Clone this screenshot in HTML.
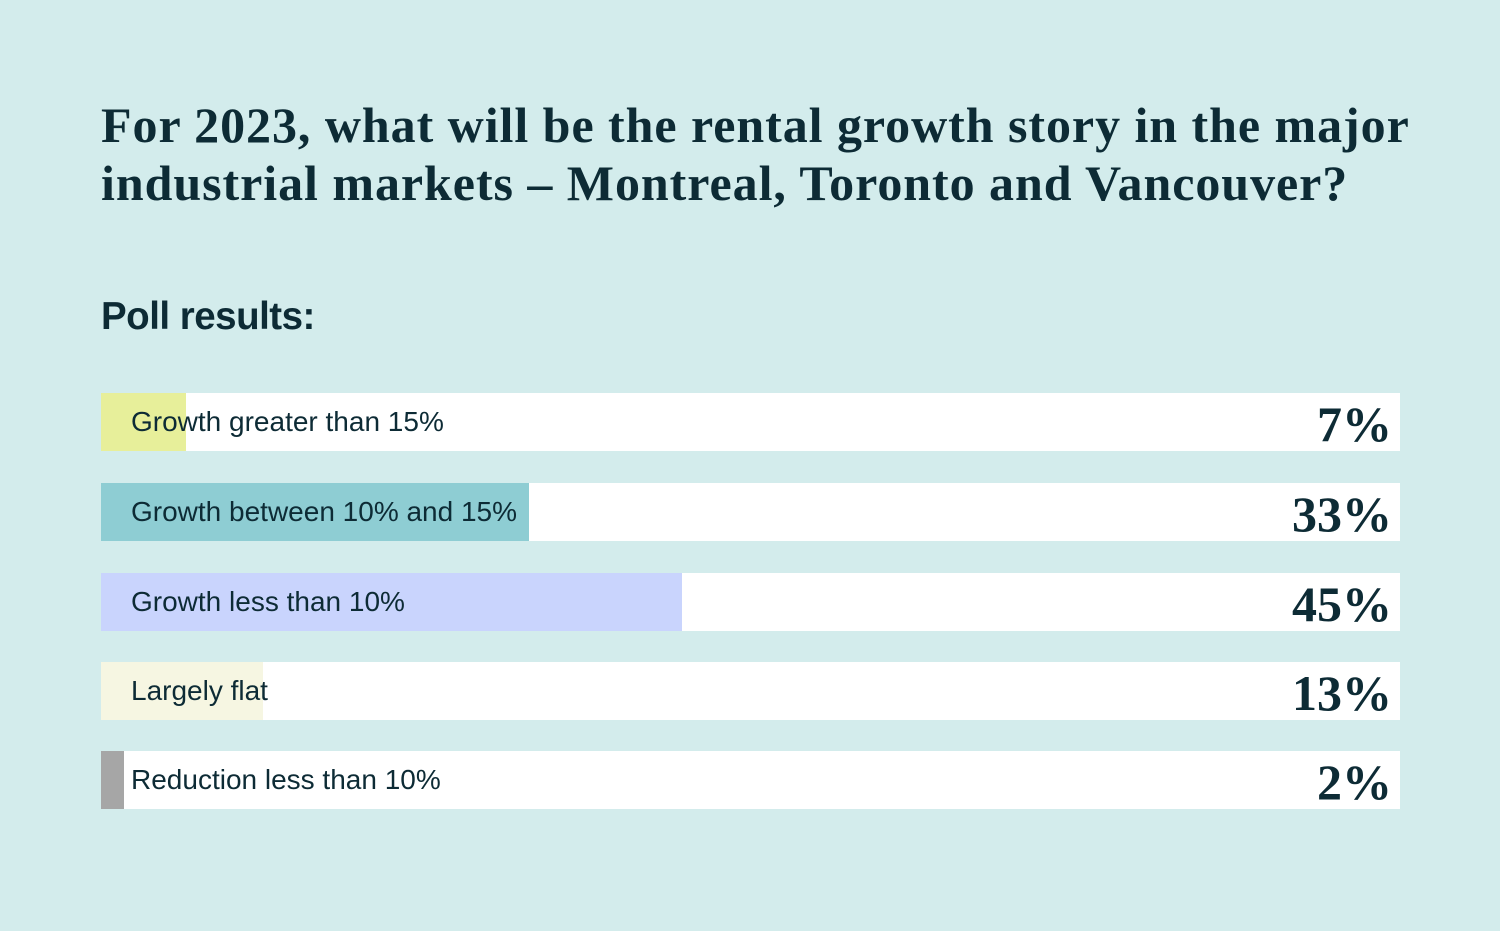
<!DOCTYPE html>
<html><head><style>
body{margin:0;width:1500px;height:931px;background:#d3ecec;position:relative;overflow:hidden;font-family:"Liberation Sans",sans-serif;color:#0d2b35}
h1{position:absolute;left:101px;top:96px;margin:0;font-family:"Liberation Serif",serif;font-weight:bold;font-size:50px;line-height:58px;letter-spacing:0.95px;width:1390px}
h2{position:absolute;left:101px;top:295px;margin:0;font-size:38.5px;font-weight:bold;letter-spacing:-0.5px}
.row{position:absolute;left:101px;width:1299px;height:58px;background:#fff}
.bar{position:absolute;left:0;top:0;height:58px}
.lab{position:absolute;left:30px;top:0;line-height:58px;font-size:28px}
.val{position:absolute;right:8px;top:0;line-height:62px;font-family:"Liberation Serif",serif;font-weight:bold;font-size:50px}
</style></head><body>
<h1>For 2023, what will be the rental growth story in the major industrial markets – Montreal, Toronto and Vancouver?</h1>
<h2>Poll results:</h2>
<div class="row" style="top:393px"><div class="bar" style="width:85px;background:#e7ef9a"></div><div class="lab">Growth greater than 15%</div><div class="val">7%</div></div>
<div class="row" style="top:483px"><div class="bar" style="width:428px;background:#8ecdd3"></div><div class="lab">Growth between 10% and 15%</div><div class="val">33%</div></div>
<div class="row" style="top:573px"><div class="bar" style="width:581px;background:#c9d4fd"></div><div class="lab">Growth less than 10%</div><div class="val">45%</div></div>
<div class="row" style="top:662px"><div class="bar" style="width:162px;background:#f6f6e2"></div><div class="lab">Largely flat</div><div class="val">13%</div></div>
<div class="row" style="top:751px"><div class="bar" style="width:23px;background:#a6a6a6"></div><div class="lab">Reduction less than 10%</div><div class="val">2%</div></div>
</body></html>
